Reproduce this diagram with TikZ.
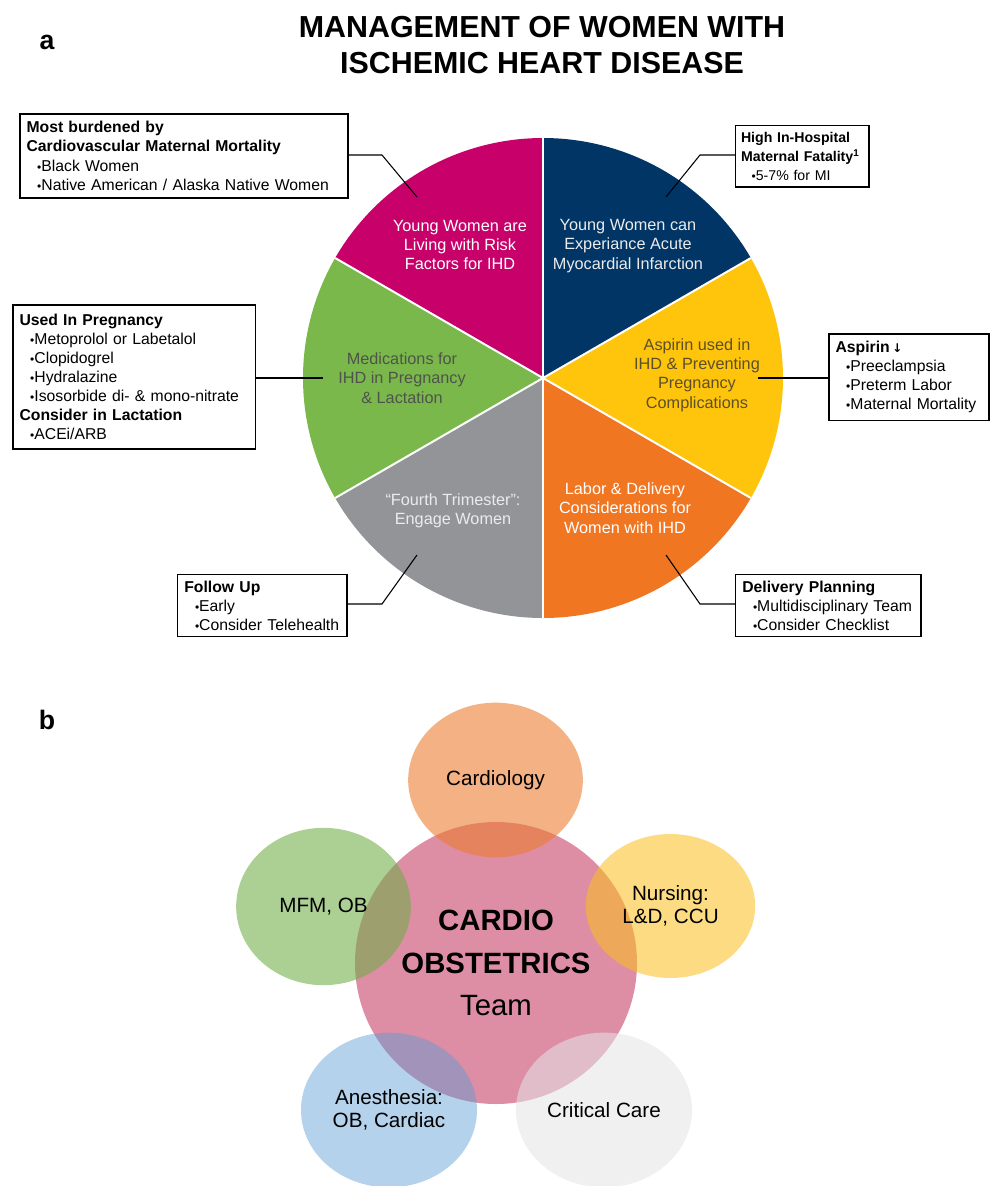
\documentclass[tikz,border=0pt]{standalone}
\usepackage{fontspec}
\setmainfont{Liberation Sans}
\newfontfamily\arrowfont{DejaVu Sans}
\usetikzlibrary{shapes.geometric}

\definecolor{ihdmagenta}{RGB}{200,0,106}
\definecolor{ihdnavy}{RGB}{0,53,102}
\definecolor{ihdyellow}{RGB}{255,196,12}
\definecolor{ihdorange}{RGB}{240,118,34}
\definecolor{ihdgray}{RGB}{146,148,151}
\definecolor{ihdgreen}{RGB}{122,184,76}
\definecolor{greentext}{RGB}{78,84,74}
\definecolor{yellowtext}{RGB}{92,80,40}
\definecolor{teampink}{RGB}{200,72,110}
\definecolor{teamorange}{RGB}{237,125,49}
\definecolor{teamgreen}{RGB}{112,173,71}
\definecolor{teamyellow}{RGB}{252,190,30}
\definecolor{teamblue}{RGB}{91,155,213}
\definecolor{teamgray}{RGB}{228,228,228}

\newcommand{\bul}{\hspace*{8pt}{\small\textbullet}}

\tikzset{
  infobox/.style={draw, line width=1pt, inner xsep=5pt, inner ysep=3pt, anchor=north west,
    align=left, font=\fontsize{11.8}{14.3}\selectfont},
  slicetext/.style={align=center, font=\fontsize{12.2}{14.5}\selectfont},
  leader/.style={line width=0.8pt},
  member/.style={ellipse, inner sep=0pt, align=center, text opacity=1,
    font=\fontsize{15.5}{17}\selectfont},
}

\begin{document}
\begin{tikzpicture}[x=0.75pt,y=0.75pt]
  \useasboundingbox (0,0) rectangle (991,-1186);

  % panel a
  \node[font=\bfseries\fontsize{20}{24}\selectfont] (laba) at (47,-42) {a};
  \node[align=center, font=\bfseries\fontsize{22.8}{26.5}\selectfont] (title) at (542,-45)
    {MANAGEMENT OF WOMEN WITH\\ISCHEMIC HEART DISEASE};

  \coordinate (pc) at (543,-378);
  \foreach \a/\c in {30/ihdnavy, -30/ihdyellow, -90/ihdorange, 210/ihdgray, 150/ihdgreen, 90/ihdmagenta}
    \fill[\c] (pc) -- ++(\a:240) arc[start angle=\a, delta angle=60, radius=240] -- cycle;
  \foreach \a in {30,90,...,330}
    \draw[white, line width=1.5pt] (pc) -- ++(\a:240);

  \node[slicetext, text=white] (risk) at (460,-245) {Young Women are\\Living with Risk\\Factors for IHD};
  \node[slicetext, text=white!92!black] (acute) at (628,-246) {Young Women can\\Experiance Acute\\Myocardial Infarction};
  \node[slicetext, text=yellowtext] (aspirin) at (697,-375) {Aspirin used in\\IHD \& Preventing\\Pregnancy\\Complications};
  \node[slicetext, text=greentext] (meds) at (402,-378) {Medications for\\IHD in Pregnancy\\\& Lactation};
  \node[slicetext, text=white!92!black] (fourth) at (453,-511) {“Fourth Trimester”:\\Engage Women};
  \node[slicetext, text=white] (labor) at (625,-508) {Labor \& Delivery\\Considerations for\\Women with IHD};

  \node[infobox, line width=1.3pt, text width=236pt, minimum height=63pt] (burden) at (19,-113)
    {\textbf{Most burdened by}\\\textbf{Cardiovascular Maternal Mortality}\\\bul Black Women\\\bul Native American / Alaska Native Women};
  \node[infobox, inner xsep=4pt, text width=92pt, minimum height=46pt,
    font=\fontsize{10.6}{14.3}\selectfont] (fatal) at (735,-125)
    {\textbf{High In-Hospital}\\\textbf{Maternal Fatality\textsuperscript{1}}\\\bul 5-7\% for MI};
  \node[infobox, line width=1.3pt, text width=172pt, minimum height=108pt] (preg) at (12,-304)
    {\textbf{Used In Pregnancy}\\\bul Metoprolol or Labetalol\\\bul Clopidogrel\\\bul Hydralazine\\\bul Isosorbide di- \& mono-nitrate\\\textbf{Consider in Lactation}\\\bul ACEi/ARB};
  \node[infobox, line width=1.3pt, text width=110pt, minimum height=65pt] (asp) at (828,-333)
    {\textbf{Aspirin}\,{\arrowfont\bfseries\small ↓}\\\bul Preeclampsia\\\bul Preterm Labor\\\bul Maternal Mortality};
  \node[infobox, text width=117pt, minimum height=46.5pt] (follow) at (177,-574)
    {\textbf{Follow Up}\\\bul Early\\\bul Consider Telehealth};
  \node[infobox, text width=129pt, minimum height=46.5pt] (plan) at (735,-574)
    {\textbf{Delivery Planning}\\\bul Multidisciplinary Team\\\bul Consider Checklist};

  \coordinate (risktip) at (417,-197);
  \coordinate (riskbend) at (382,-155);
  \coordinate (acutetip) at (666,-197);
  \coordinate (acutebend) at (700,-155);
  \coordinate (medstip) at (323,-378);
  \coordinate (asptip) at (758,-378);
  \coordinate (fourthtip) at (417,-555);
  \coordinate (fourthbend) at (382,-604);
  \coordinate (labortip) at (666,-555);
  \coordinate (laborbend) at (700,-604);
  \draw[leader] (risktip) -- (riskbend) -- (burden.east |- riskbend);
  \draw[leader] (acutetip) -- (acutebend) -- (fatal.west |- acutebend);
  \draw[leader] (medstip) -- (preg.east |- medstip);
  \draw[leader] (asptip) -- (asp.west |- asptip);
  \draw[leader] (fourthtip) -- (fourthbend) -- (follow.east |- fourthbend);
  \draw[leader] (labortip) -- (laborbend) -- (plan.west |- laborbend);

  % panel b
  \node[font=\bfseries\fontsize{20}{24}\selectfont] (labb) at (47,-720) {b};
  \node[member, circle, minimum size=211.5pt, fill=teampink, fill opacity=0.62,
    font=\fontsize{22}{32}\selectfont] (team) at (496,-963)
    {\textbf{CARDIO}\\\textbf{OBSTETRICS}\\Team};
  \node[member, minimum width=131pt, minimum height=116pt, fill=teamorange, fill opacity=0.6] (cardio) at (495.5,-780) {Cardiology};
  \node[member, minimum width=131pt, minimum height=118pt, fill=teamgreen, fill opacity=0.58] (mfm) at (323.5,-906.5) {MFM, OB};
  \node[member, minimum width=127pt, minimum height=108pt, fill=teamyellow, fill opacity=0.55] (nurse) at (670.5,-906) {Nursing:\\L\&D, CCU};
  \node[member, minimum width=132pt, minimum height=116pt, fill=teamblue, fill opacity=0.45] (anes) at (389,-1110) {Anesthesia:\\OB, Cardiac};
  \node[member, minimum width=132pt, minimum height=116pt, fill=teamgray, fill opacity=0.55] (crit) at (604,-1110) {Critical Care};
\end{tikzpicture}
\end{document}
